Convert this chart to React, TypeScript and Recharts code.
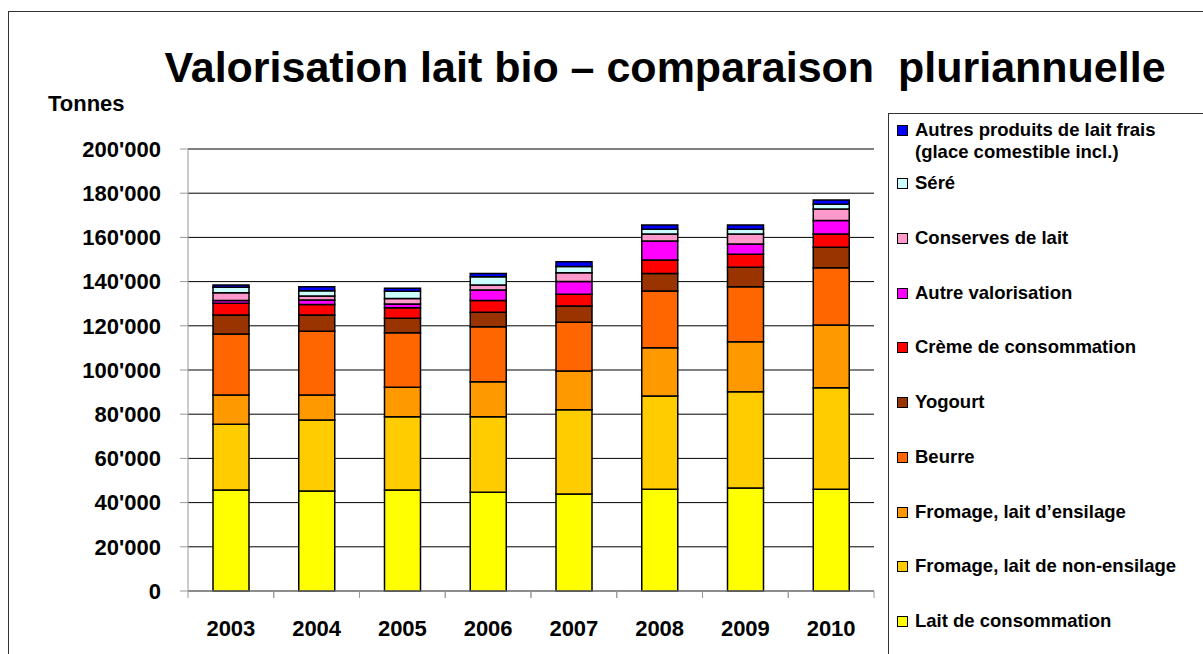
import { BarChart, Bar, XAxis, YAxis, CartesianGrid } from 'recharts';

const years = ['2003', '2004', '2005', '2006', '2007', '2008', '2009', '2010'];

// tonnes (bottom segment first)
const laitConsommation = [45700, 45200, 45700, 44700, 43900, 46000, 46600, 46000];
const fromageNonEnsilage = [29700, 32200, 33200, 34200, 38100, 42200, 43600, 46000];
const fromageEnsilage = [13300, 11300, 13300, 15800, 17500, 21900, 22600, 28400];
const beurre = [27600, 28800, 24700, 24900, 22100, 25600, 24900, 25900];
const yogourt = [8600, 7400, 6500, 6500, 7400, 8000, 8800, 9200];
const creme = [5300, 4700, 4800, 5300, 5300, 6100, 5900, 6000];
const autreValorisation = [1200, 2100, 1700, 4800, 5700, 8600, 4600, 6200];
const conserves = [3600, 1800, 2400, 2300, 4000, 3100, 4500, 5200];
const sere = [2400, 2400, 3300, 3700, 2800, 2200, 2200, 2100];
const autresProduits = [1100, 1800, 1400, 1500, 2200, 1900, 1900, 1900];

const yTicks = [0, 20000, 40000, 60000, 80000, 100000, 120000, 140000, 160000, 180000, 200000];

const series = [
    { key: 'lait', name: 'Lait de consommation', values: laitConsommation, color: '#FFFF00' },
    { key: 'nonEns', name: 'Fromage, lait de non-ensilage', values: fromageNonEnsilage, color: '#FFCC00' },
    { key: 'ens', name: 'Fromage, lait d\u2019ensilage', values: fromageEnsilage, color: '#FF9900' },
    { key: 'beurre', name: 'Beurre', values: beurre, color: '#FF6600' },
    { key: 'yogourt', name: 'Yogourt', values: yogourt, color: '#993300' },
    { key: 'creme', name: 'Crème de consommation', values: creme, color: '#FF0000' },
    { key: 'autre', name: 'Autre valorisation', values: autreValorisation, color: '#FF00FF' },
    { key: 'conserves', name: 'Conserves de lait', values: conserves, color: '#FF99CC' },
    { key: 'sere', name: 'Séré', values: sere, color: '#CCFFFF' },
    { key: 'autres', name: 'Autres produits de lait frais\n(glace comestible incl.)', values: autresProduits, color: '#0000FF' },
];

const data = years.map((year, i) => {
    const row: any = { year };
    series.forEach((s) => {
        row[s.key] = s.values[i];
    });
    return row;
});

const FONT = 'Arial, "Liberation Sans", Helvetica, sans-serif';

const fmt = (v: number) => {
    if (v === 0) return '0';
    const t = Math.floor(v / 1000);
    return `${t}'000`;
};

const YearTick = (props: any) => {
    const { x, y, payload } = props;
    const half = payload && payload.offset ? payload.offset : 43;
    return (
        <g>
            <line x1={x - half} y1={y} x2={x - half} y2={y + 7} stroke="#999" />
            <line x1={x + half} y1={y} x2={x + half} y2={y + 7} stroke="#999" />
            <text
                x={x}
                y={y + 45}
                textAnchor="middle"
                fontFamily={FONT}
                fontWeight="bold"
                fontSize={22}
                fill="#000"
            >
                {payload.value}
            </text>
        </g>
    );
};

const legendItems = [...series].reverse();

export default function App() {
    return (
        <div
            style={{
                position: 'absolute',
                left: 0,
                top: 0,
                width: 1203,
                height: 654,
                overflow: 'hidden',
                background: '#fff',
                fontFamily: FONT,
            }}
        >
            <div
                style={{
                    position: 'absolute',
                    left: 8,
                    top: 11,
                    width: 1200,
                    height: 700,
                    border: '1px solid #333',
                    boxSizing: 'border-box',
                }}
            />
            <div
                style={{
                    position: 'absolute',
                    left: 0,
                    width: 1330,
                    top: 41,
                    textAlign: 'center',
                    fontSize: 43,
                    fontWeight: 'bold',
                    whiteSpace: 'pre',
                    lineHeight: '52px',
                }}
            >
                {'Valorisation lait bio \u2013 comparaison  pluriannuelle'}
            </div>
            <div
                style={{
                    position: 'absolute',
                    left: 48,
                    top: 90,
                    fontSize: 22,
                    fontWeight: 'bold',
                    lineHeight: '28px',
                }}
            >
                Tonnes
            </div>

            <div style={{ position: 'absolute', left: 0, top: 0 }}>
                <BarChart
                    width={1203}
                    height={654}
                    data={data}
                    margin={{ top: 149, right: 329, bottom: 13, left: 88 }}
                    barSize={36}
                >
                    <CartesianGrid vertical={false} stroke="#000" />
                    <XAxis
                        dataKey="year"
                        axisLine={{ stroke: '#999' }}
                        tickLine={false}
                        tickSize={0}
                        tickMargin={0}
                        height={50}
                        tick={<YearTick />}
                        interval={0}
                    />
                    <YAxis
                        domain={[0, 200000]}
                        ticks={yTicks}
                        width={100}
                        axisLine={{ stroke: '#999' }}
                        tickLine={{ stroke: '#999' }}
                        tickSize={8}
                        tickMargin={19}
                        tickFormatter={fmt}
                        tick={{ fontFamily: FONT, fontWeight: 'bold', fontSize: 22, fill: '#000' }}
                        interval={0}
                    />
                    {series.map((s) => (
                        <Bar
                            key={s.key}
                            dataKey={s.key}
                            name={s.name}
                            stackId="a"
                            fill={s.color}
                            stroke="#000"
                            strokeWidth={1.5}
                            isAnimationActive={false}
                        />
                    ))}
                </BarChart>
            </div>

            <div
                style={{
                    position: 'absolute',
                    left: 888,
                    top: 113,
                    width: 400,
                    height: 700,
                    borderLeft: '1px solid #333',
                    borderTop: '1px solid #333',
                    background: '#fff',
                }}
            />
            {legendItems.map((s, i) => {
                const center = i === 0 ? 130 : 183 + (i - 1) * 54.75;
                const lines = s.name.split('\n');
                return (
                    <div
                        key={s.key}
                        style={{
                            position: 'absolute',
                            left: 897,
                            top: center - 11,
                            display: 'flex',
                            alignItems: 'flex-start',
                        }}
                    >
                        <div
                            style={{
                                width: 9,
                                height: 9,
                                marginTop: 6,
                                background: s.color,
                                border: '1px solid #000',
                                flex: 'none',
                            }}
                        />
                        <div
                            style={{
                                marginLeft: 7,
                                fontSize: 18.5,
                                fontWeight: 'bold',
                                lineHeight: '22px',
                                whiteSpace: 'nowrap',
                            }}
                        >
                            {lines.map((l, j) => (
                                <div key={j}>{l}</div>
                            ))}
                        </div>
                    </div>
                );
            })}
        </div>
    );
}
